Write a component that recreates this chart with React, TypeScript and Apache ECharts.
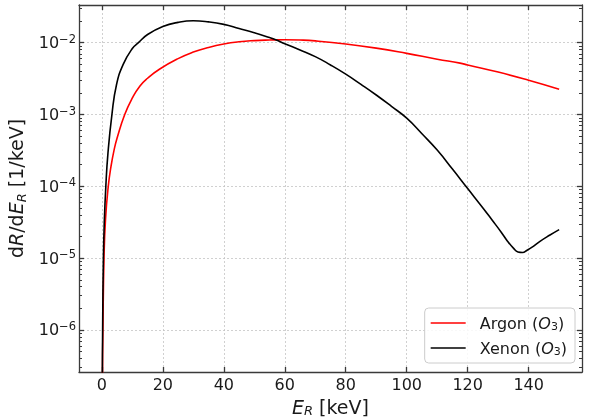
import React, { useEffect, useRef } from 'react';
import * as echarts from 'echarts';

// Recoil energies (keV) and differential rates (1/keV)
const xenonE = [0, 0.15, 0.25, 0.5, 0.8, 1.3, 2, 3.3, 4.8, 7, 10, 12, 15, 20, 25, 30, 35, 40, 45, 50, 55, 57, 60, 65, 70, 75, 80, 85, 90, 95, 100, 105, 110, 115, 120, 125, 128, 131, 133, 135, 136.5, 138, 139.5, 141, 143.6, 147, 150];
const xenonRate = [1e-9, 2e-7, 1e-6, 1e-5, 3.2e-5, 1e-4, 2.9e-4, 1e-3, 2.6e-3, 5e-3, 8.3e-3, 1.0e-2, 1.3e-2, 1.68e-2, 1.92e-2, 2.02e-2, 1.95e-2, 1.8e-2, 1.58e-2, 1.38e-2, 1.18e-2, 1.1e-2, 9.7e-3, 7.9e-3, 6.4e-3, 4.9e-3, 3.65e-3, 2.63e-3, 1.87e-3, 1.3e-3, 8.9e-4, 5.4e-4, 3.2e-4, 1.74e-4, 9.3e-5, 5.0e-5, 3.4e-5, 2.3e-5, 1.74e-5, 1.38e-5, 1.22e-5, 1.2e-5, 1.29e-5, 1.41e-5, 1.7e-5, 2.1e-5, 2.5e-5];

const argonE = [0, 0.2, 0.35, 0.7, 1.2, 2.1, 3, 4, 5, 7.5, 10, 12.5, 15, 19, 25, 30, 35, 40, 45, 50, 55, 60, 65, 70, 80, 90, 100, 110, 117.5, 120, 130, 140, 150];
const argonRate = [1e-9, 2e-7, 1e-6, 1e-5, 3.5e-5, 1e-4, 1.9e-4, 3.2e-4, 4.7e-4, 1e-3, 1.7e-3, 2.5e-3, 3.2e-3, 4.3e-3, 6.0e-3, 7.4e-3, 8.6e-3, 9.6e-3, 1.03e-2, 1.07e-2, 1.09e-2, 1.1e-2, 1.09e-2, 1.06e-2, 9.6e-3, 8.4e-3, 7.1e-3, 5.9e-3, 5.2e-3, 4.9e-3, 3.9e-3, 3.0e-3, 2.25e-3];

const seriesNames = ['Argon', 'Xenon'];
const seriesColors = ['#ff0000', '#000000'];
const xTicks = [0, 20, 40, 60, 80, 100, 120, 140];
const yDecades = [-6, -5, -4, -3, -2];

const X_MIN = -7.5;
const X_MAX = 157.5;
const Y_MIN = Math.log10(2.6e-7);
const Y_MAX = Math.log10(3.35e-2);

const FONT = 'DejaVu Sans';
const AXIS_COLOR = '#3a3a3a';
const TEXT_COLOR = '#1a1a1a';

function minorValues(): number[] {
  const out: number[] = [];
  for (let n = -7; n <= -1; n++) {
    for (let k = 2; k <= 9; k++) {
      const v = n + Math.log10(k);
      if (v > Y_MIN && v < Y_MAX) out.push(v);
    }
  }
  return out;
}

export default function App() {
  const ref = useRef<HTMLDivElement>(null);
  useEffect(() => {
    if (!ref.current) return;
    const chart = echarts.init(ref.current, undefined, { renderer: 'svg' });
    const minor = minorValues();
    const axisLineStyle = { color: AXIS_COLOR, width: 1.3 };
    const gridLine = { show: true, lineStyle: { type: [2, 2] as any, color: '#c4c4c4', width: 0.8 } };
    const baseY: any = {
      type: 'value', min: Y_MIN, max: Y_MAX,
      splitLine: { show: false }, axisLabel: { show: false },
      axisLine: { show: false, onZero: false }, axisTick: { show: false },
    };
    const baseX: any = {
      type: 'value', min: X_MIN, max: X_MAX,
      splitLine: { show: false }, axisLabel: { show: false },
      axisLine: { show: false, onZero: false }, axisTick: { show: false },
    };
    const toData = (es: number[], rs: number[]) => es.map((e, i) => [e, Math.log10(rs[i])]);
    const data = [toData(argonE, argonRate), toData(xenonE, xenonRate)];

    chart.setOption({
      animation: false,
      textStyle: { fontFamily: FONT },
      grid: { left: 79, right: 10, top: 5, bottom: 47, containLabel: false, outerBoundsMode: 'none' },
      xAxis: [
        {
          ...baseX, position: 'bottom',
          axisLine: { show: true, onZero: false, lineStyle: axisLineStyle },
          axisTick: { show: true, inside: true, length: 5, customValues: xTicks, lineStyle: axisLineStyle },
          axisLabel: { show: true, customValues: xTicks, margin: 4, fontSize: 16, color: TEXT_COLOR, fontFamily: FONT },
          splitLine: gridLine,
          name: '{i|E}{s|R} [keV]', nameLocation: 'middle', nameGap: 23,
          nameTextStyle: {
            fontSize: 19, color: TEXT_COLOR, fontFamily: FONT, lineHeight: 20,
            rich: {
              i: { fontSize: 19, fontStyle: 'italic', color: TEXT_COLOR, fontFamily: FONT, lineHeight: 20 },
              s: { fontSize: 13, fontStyle: 'italic', color: TEXT_COLOR, fontFamily: FONT, lineHeight: 12, verticalAlign: 'bottom' },
            },
          },
        },
        {
          ...baseX, position: 'top',
          axisLine: { show: true, onZero: false, lineStyle: axisLineStyle },
          axisTick: { show: true, inside: true, length: 5, customValues: xTicks, lineStyle: axisLineStyle },
        },
      ],
      yAxis: [
        {
          ...baseY, position: 'left',
          axisLine: { show: true, onZero: false, lineStyle: axisLineStyle },
          axisTick: { show: true, inside: true, length: 5, customValues: yDecades, lineStyle: axisLineStyle },
          axisLabel: {
            show: true, customValues: yDecades, margin: 3,
            formatter: (v: number) => `{a|10}{b|\u2212${Math.round(-v)}}`,
            rich: {
              a: { fontSize: 16, color: TEXT_COLOR, fontFamily: FONT, lineHeight: 20 },
              b: { fontSize: 11.5, color: TEXT_COLOR, fontFamily: FONT, lineHeight: 12, verticalAlign: 'top' },
            },
          },
          splitLine: gridLine,
          name: 'd{i|R}/d{i|E}{s|R} [1/keV]', nameLocation: 'middle', nameGap: 49, nameRotate: 90,
          nameTextStyle: {
            fontSize: 19, color: TEXT_COLOR, fontFamily: FONT, lineHeight: 24,
            rich: {
              i: { fontSize: 19, fontStyle: 'italic', color: TEXT_COLOR, fontFamily: FONT, lineHeight: 24 },
              s: { fontSize: 13, fontStyle: 'italic', color: TEXT_COLOR, fontFamily: FONT, lineHeight: 14, verticalAlign: 'bottom' },
            },
          },
        },
        {
          ...baseY, position: 'left',
          axisTick: { show: true, inside: true, length: 3, customValues: minor, lineStyle: { color: AXIS_COLOR, width: 1 } },
        },
        {
          ...baseY, position: 'right',
          axisLine: { show: true, onZero: false, lineStyle: axisLineStyle },
          axisTick: { show: true, inside: true, length: 5, customValues: yDecades, lineStyle: axisLineStyle },
        },
        {
          ...baseY, position: 'right',
          axisTick: { show: true, inside: true, length: 3, customValues: minor, lineStyle: { color: AXIS_COLOR, width: 1 } },
        },
      ],
      legend: {
        orient: 'vertical', right: 17, bottom: 56, align: 'left',
        data: seriesNames,
        icon: 'path://M0,0H35V1.5H0Z', itemWidth: 35, itemHeight: 1.5, itemGap: 7,
        padding: [6, 8, 6, 6],
        backgroundColor: 'rgba(255,255,255,0.85)', borderColor: '#cccccc', borderWidth: 1, borderRadius: 4,
        formatter: (name: string) => `{t|${name} (}{o|O}{s|3}{t|)}`,
        textStyle: {
          fontSize: 16, color: TEXT_COLOR, fontFamily: FONT, lineHeight: 18, padding: [0, 0, 0, 9],
          rich: {
            t: { fontSize: 16, color: TEXT_COLOR, fontFamily: FONT, lineHeight: 18 },
            o: { fontSize: 16, fontStyle: 'italic', color: TEXT_COLOR, fontFamily: FONT, lineHeight: 18 },
            s: { fontSize: 11, color: TEXT_COLOR, fontFamily: FONT, lineHeight: 11, verticalAlign: 'bottom' },
          },
        },
      },
      series: seriesNames.map((name, i) => ({
        name, type: 'line', data: data[i], xAxisIndex: 0, yAxisIndex: 0,
        showSymbol: false, symbol: 'none', smooth: 0.5, clip: true,
        lineStyle: { color: seriesColors[i], width: 1.6 },
        itemStyle: { color: seriesColors[i] },
      })),
    });
    return () => chart.dispose();
  }, []);
  return <div ref={ref} style={{ position: 'fixed', left: 0, top: 0, width: 592, height: 419 }} />;
}
